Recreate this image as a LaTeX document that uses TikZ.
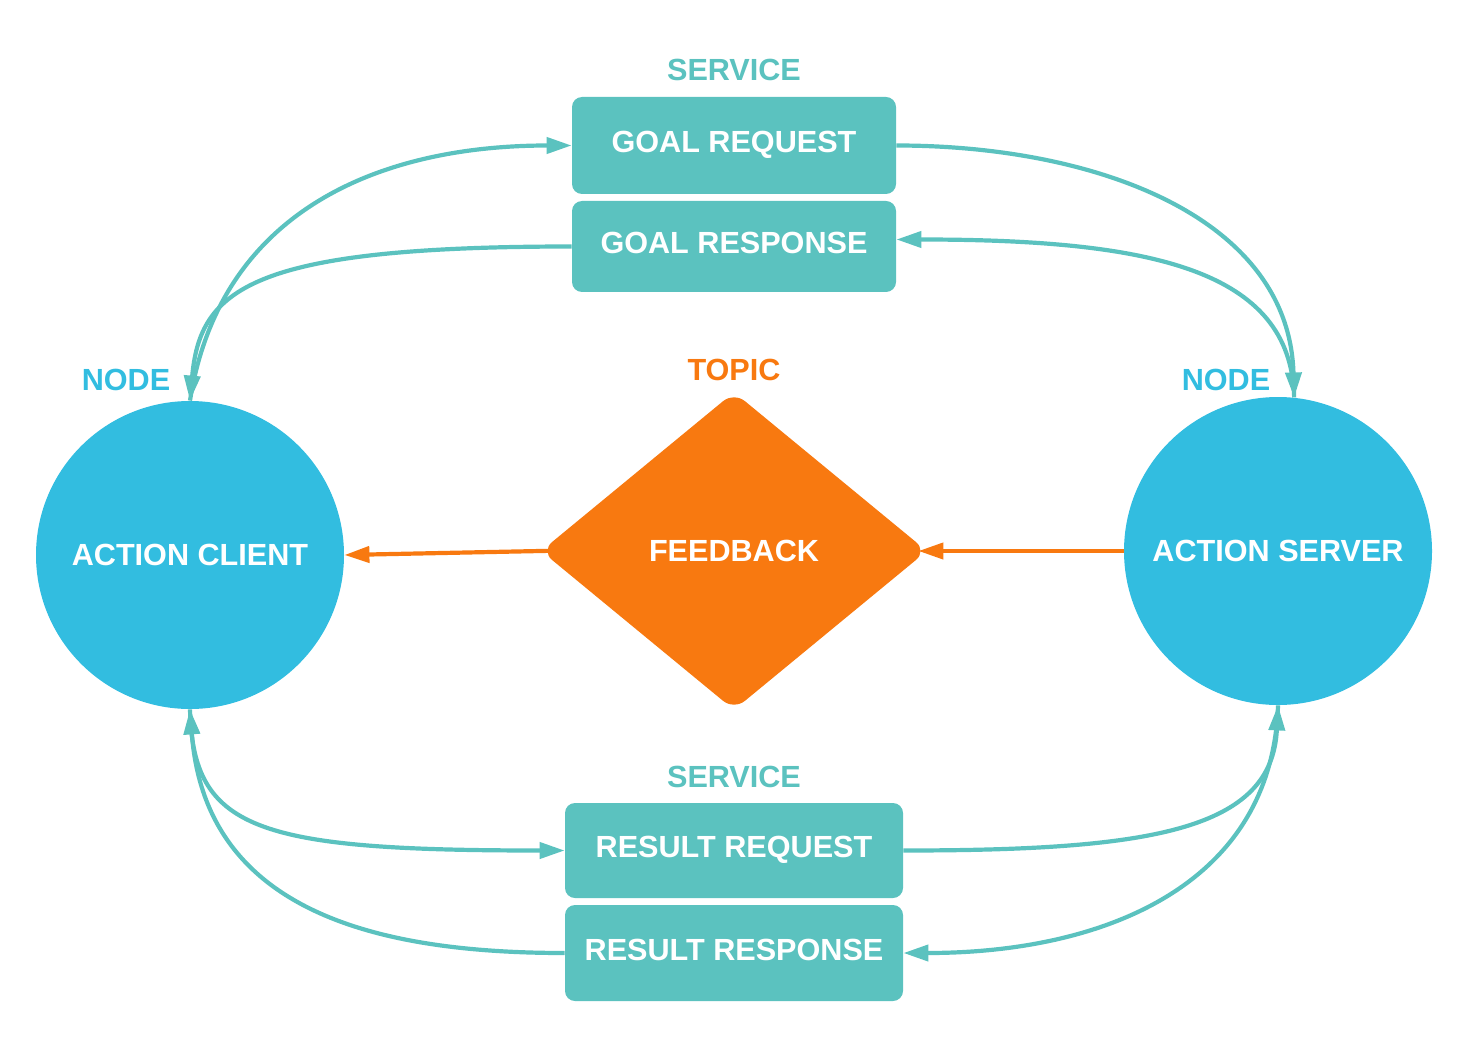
\documentclass[tikz,border=0pt]{standalone}
\usepackage{fontspec}
\setmainfont{Liberation Sans}
\usetikzlibrary{arrows.meta,shapes.geometric}
\definecolor{teal}{RGB}{91,194,191}
\definecolor{nodeblue}{RGB}{50,189,224}
\definecolor{topicorange}{RGB}{248,121,16}
\tikzset{
  txt/.style={font=\fontsize{15.3}{18}\selectfont\bfseries},
  circnode/.style={circle, fill=nodeblue, minimum size=154pt, inner sep=0pt, text=white, txt},
  svcbox/.style={rectangle, rounded corners=5pt, fill=teal, text=white, txt, inner sep=0pt, text height=11pt, text depth=4pt},
  topicnode/.style={diamond, fill=topicorange, rounded corners=7pt, minimum width=193pt, minimum height=159pt, inner sep=0pt, text=white, txt},
  lbl/.style={txt, inner sep=0pt},
  conn/.style={draw=teal, line width=2.1pt, -{Triangle[length=12.5pt,width=8pt]}},
  fbconn/.style={draw=topicorange, line width=2.1pt, -{Triangle[length=12.5pt,width=8pt]}}
}
\begin{document}
\begin{tikzpicture}[x=0.5pt,y=-0.5pt]
\useasboundingbox (0,0) rectangle (1470,1037);
% main nodes
\node[circnode] (lc) at (190,555) {ACTION CLIENT};
\node[circnode] (rs) at (1278,551) {ACTION SERVER};
\node[topicnode] (fb) at (734,551) {FEEDBACK};
\node[svcbox, minimum width=162pt, minimum height=48.5pt] (gq) at (734,145.5) {GOAL REQUEST};
\node[svcbox, minimum width=162pt, minimum height=45.5pt] (gr) at (734,246.5) {GOAL RESPONSE};
\node[svcbox, minimum width=169pt, minimum height=47.5pt] (rq) at (734,850.5) {RESULT REQUEST};
\node[svcbox, minimum width=169pt, minimum height=48pt] (rp) at (734,953) {RESULT RESPONSE};
% labels
\node[lbl, text=teal] (svc1) at (734,70) {SERVICE};
\node[lbl, text=teal] (svc2) at (734,777) {SERVICE};
\node[lbl, text=topicorange] (topic) at (734,370) {TOPIC};
\node[lbl, text=nodeblue] (nodel) at (126,380) {NODE};
\node[lbl, text=nodeblue] (noder) at (1226,380) {NODE};
% goal service
\draw[conn] (lc.north) .. controls +(30,-190) and +(-192,0) .. (gq.west);
\draw[conn] (gr.west) .. controls +(-322,0) and +(10,-111) .. (lc.north);
\draw[conn] (gq.east) .. controls +(200,0) and +(-5,-180) .. (rs.84);
\draw[conn] (rs.84) .. controls +(-3,-128) and +(254,0) .. ([yshift=3.5pt]gr.east);
% result service
\draw[conn] (lc.south) .. controls +(3,120) and +(-310,0) .. (rq.west);
\draw[conn] (rp.west) .. controls +(-192,0) and +(15,200) .. (lc.south);
\draw[conn] (rq.east) .. controls +(247,0) and +(-6,125) .. (rs.south);
\draw[conn] (rs.south) .. controls +(-6,180) and +(200,0) .. (rp.east);
% feedback topic
\draw[fbconn, shorten >=-4.5pt] (rs.west) -- (fb.east);
\draw[fbconn, shorten <=-4pt] (fb.west) -- (lc.east);
\end{tikzpicture}
\end{document}
